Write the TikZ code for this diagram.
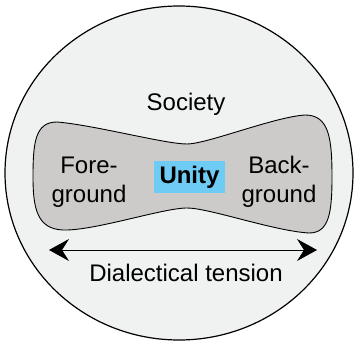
\documentclass[tikz,border=0pt]{standalone}
\usepackage{fontspec}
\setmainfont{Liberation Sans}
\usepackage{xcolor}
\definecolor{socfill}{HTML}{F0F1F1}
\definecolor{bonefill}{HTML}{CDCBCA}
\definecolor{unityblue}{HTML}{6DCBF4}
\usepackage{tikz}
\usetikzlibrary{arrows.meta,positioning}

\begin{document}
\begin{tikzpicture}[x=1pt,y=1pt,
  soc/.style={draw=black, fill=socfill, line width=1.2pt},
  bone/.style={draw=black, fill=bonefill, line width=0.9pt},
  lbl/.style={font=\fontsize{24}{29}\selectfont, align=center, inner sep=0pt},
  unity/.style={fill=unityblue, minimum width=71pt, minimum height=32pt,
                inner sep=0pt, font=\fontsize{24}{29}\selectfont\bfseries},
  tensarrow/.style={line width=0.9pt, {Stealth[length=20pt,width=22pt,inset=7pt]}-{Stealth[length=20pt,width=22pt,inset=7pt]}}
]
  \useasboundingbox[fill=white] (-179,-169) rectangle (176,173);
  \draw[soc] (0,0) ellipse [x radius=174, y radius=167];

  \draw[bone] (8,29) .. controls (28,29) and (95,56) .. (126,58)
    .. controls (150,58) and (153,35) .. (153,-4)
    .. controls (153,-40) and (150,-60) .. (130,-60)
    .. controls (95,-58) and (30,-35) .. (8,-35)
    .. controls (-16,-35) and (-85,-58) .. (-116,-57)
    .. controls (-142,-56) and (-146,-35) .. (-146,-4)
    .. controls (-146,30) and (-144,51) .. (-122,51)
    .. controls (-85,48) and (-14,29) .. (8,29) -- cycle;

  \node[lbl, anchor=base] (society) at (7,62) {Society};
  \node[lbl, anchor=base] (fore)    at (-90,-29) {Fore-\\ground};
  \node[lbl, anchor=base] (back)    at (100,-29) {Back-\\ground};
  \node[unity] (unitybox) at (10.5,-4) {Unity};

  \coordinate (tensL) at (-130,-77);
  \coordinate (tensR) at (138,-77);
  \draw[tensarrow] (tensL) -- (tensR);
  \node[lbl, anchor=base] (dialect) at (7,-108) {Dialectical tension};
\end{tikzpicture}
\end{document}
